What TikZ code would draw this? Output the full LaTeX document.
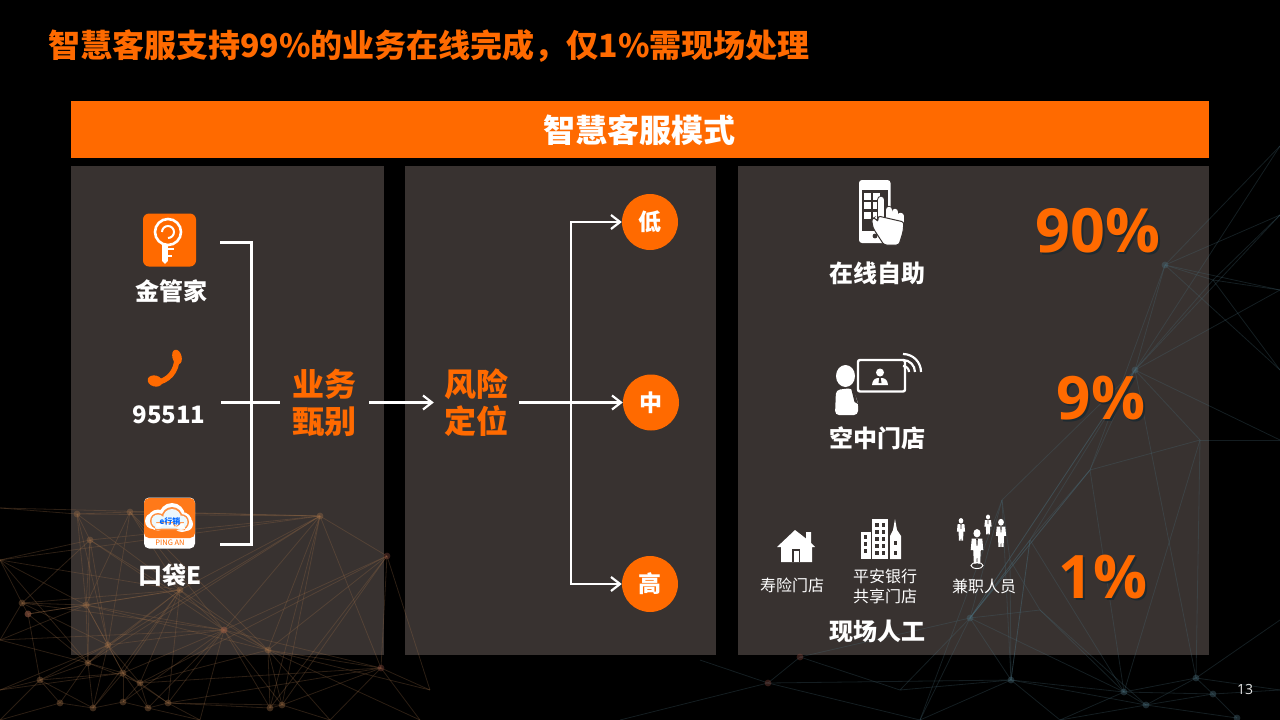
\documentclass[tikz,border=0pt]{standalone}
\usepackage{fontspec}
\setmainfont{Noto Sans CJK SC}
\newfontfamily\numfont{Open Sans}
\usetikzlibrary{arrows.meta,calc}
\definecolor{brand}{HTML}{FF6A00}
\definecolor{panelc}{HTML}{383230}
\definecolor{netor}{HTML}{A07048}
\definecolor{netbl}{HTML}{4A6E7C}
\definecolor{netrd}{HTML}{8A4A40}
\definecolor{shadowc}{HTML}{1E2A30}
\newcommand{\fs}[1]{\fontsize{#1}{#1}\selectfont}
\newcommand{\personicon}[3]{%
  \begin{scope}[shift={(#1,#2)},scale=#3]
    \fill[white] (0,-15) circle[x radius=3.4,y radius=4];
    \fill[white] (-5,-10) -- (5,-10) -- (6,1) -- (3.6,1) -- (3,14) -- (0.5,14) -- (0,4) -- (-0.5,14) -- (-3,14) -- (-3.6,1) -- (-6,1) -- cycle;
    \fill[panelc] (-0.8,-10) -- (0.8,-10) -- (0.4,-3) -- (-0.4,-3) -- cycle;
  \end{scope}}
\tikzset{
  panel/.style={fill=panelc,draw=none},
  labelw/.style={text=white,font=\fs{24}\bfseries,inner sep=0pt},
  labelo/.style={text=brand,font=\fontsize{32}{37}\selectfont\bfseries,inner sep=0pt,align=center},
  smalll/.style={text=white,font=\fontsize{16}{20}\selectfont,inner sep=0pt,align=center},
  pct/.style={text=brand,font=\numfont\fs{60}\bfseries,inner sep=0pt},
  pctsh/.style={text=shadowc,font=\numfont\fs{60}\bfseries,inner sep=0pt},
  conn/.style={draw=white,line width=3pt},
  tipconn/.style={draw=white,line width=2.6pt,-{Straight Barb[length=9pt,width=14pt,line width=2.2pt]}},
  riskc/.style={circle,fill=brand,minimum size=56pt,inner sep=0pt,text=white,font=\fs{23}\bfseries},
  netdot/.style={radius=3.4pt,fill opacity=.38},
  netline/.style={line width=.8pt,draw opacity=.27}
}
\begin{document}
\begin{tikzpicture}[x=1pt,y=-1pt]
\fill[black] (0,0) rectangle (1280,720);
\useasboundingbox (0,0) rectangle (1280,720);
% --- panels
\fill[panel] (71,166) rectangle (384,655);
\fill[panel] (405,166) rectangle (716,655);
\fill[panel] (738,166) rectangle (1209,655);
% --- background network, bottom left (orange)
\foreach \n/\x/\y in {a/0/508,b/77/514,c/130/512,d/90/540,e/320/516,f/387/556,g/22/603,h/28/614,i/86/605,j/180/590,k/224/630,l/268/650,m/108/645,n/88/663,o/40/680,p/123/673,q/140/683,r/60/703,s/93/708,t/123/702,u/148/708,v/168/703,w/270/708,x/282/705,y/381/668,z/0/560,A/0/640,B/0/690,C/420/720,D/330/720,E/430/690,F/0/720,G/200/720}{\coordinate (n\n) at (\x,\y);}
\foreach \p/\q in {a/b,b/c,b/d,b/j,c/e,c/j,c/k,c/l,d/i,d/m,d/n,d/g,d/z,e/j,e/k,e/l,e/f,e/y,e/n,e/m,f/k,f/y,f/l,g/i,g/m,g/h,h/i,h/o,h/n,i/j,i/p,i/m,i/n,j/k,j/m,j/p,j/l,j/n,k/l,k/m,k/p,k/w,k/x,l/y,l/x,l/w,l/q,m/n,m/o,m/p,m/q,m/s,n/o,n/p,n/q,n/r,n/s,o/r,o/s,o/p,p/q,p/s,p/t,p/u,p/v,q/t,q/u,q/v,q/j,r/s,s/t,t/u,u/v,v/j,v/w,w/x,x/y,z/g,z/n,z/i,j/z,s/j,t/k,u/k,v/k,v/x,a/e,b/e,d/e,z/e,d/k,d/l,i/l,g/j,g/k,i/k,h/j,c/m,c/i,b/m,b/i,e/x,e/w,f/w,f/x,f/q,y/k,y/q,y/v,A/g,A/i,A/k,A/n,B/o,B/p,B/m,F/r,F/o,G/v,G/k,G/u,D/l,D/y,D/x,C/y,C/l,E/y,E/f,E/l}{\draw[netor,netline] (n\p) -- (n\q);}
\foreach \n in {b,c,d,e,g,h,i,j,k,l,m,n,o,p,q,r,s,t,u,v,w,x}{\fill[netor,netdot] (n\n) circle;}
\foreach \n in {f,y,h,k}{\fill[netrd,netdot] (n\n) circle;}
% --- background network, bottom centre and right (blue)
\foreach \n/\x/\y in {a/800/657,b/768/683,c/970/618,d/1011/680,e/1124/692,f/1146/705,g/1196/678,h/1213/694,i/1237/718,j/1165/265,k/1135/370,l/1280/146,m/1280/215,n/1280/290,o/1280/370,p/1213/280,q/1280/620,r/1280/690,s/1060/720,t/920/720,u/1090/470,v/1200/440,w/1280/440,x/1030/540,y/620/720,z/700/660,A/1002/500,B/1010/560,C/1040/610,D/900/690}{\coordinate (b\n) at (\x,\y);}
\foreach \p/\q in {a/b,a/c,b/y,b/z,b/t,b/d,c/d,c/x,c/u,c/t,c/e,c/k,d/e,d/s,d/t,d/x,d/f,e/f,e/g,e/h,e/x,e/s,f/g,f/h,f/i,f/s,g/h,g/q,g/r,h/i,h/r,j/l,j/m,j/n,j/o,j/k,j/p,j/u,k/l,k/m,k/n,k/p,k/u,k/v,k/x,k/w,k/c,p/n,p/m,p/o,u/c,u/x,u/e,v/w,v/e,v/u,x/d,x/c,g/v,g/k,A/d,A/c,A/t,A/B,B/d,B/C,C/e,C/f,C/c,a/D,D/d,D/c,A/k}{\draw[netbl,netline] (b\p) -- (b\q);}
\foreach \n in {c,d,e,f,g,h,i,j,k}{\fill[netbl,netdot] (b\n) circle;}
\fill[netrd,netdot] (ba) circle;
\fill[netrd,netdot] (bb) circle;
\fill[brand] (71,101) rectangle (1209,158);
% --- title and header
\node[anchor=west,text=brand,font=\fs{32}\bfseries,inner sep=0pt] (title) at (48,46) {智慧客服支持99\%的业务在线完成，仅1\%需现场处理};
\node[text=white,font=\fs{32}\bfseries,inner sep=0pt] (header) at (639.5,130) {智慧客服模式};
% --- left panel icons
\node[fill=brand,rounded corners=6pt,minimum size=53pt,inner sep=0pt] (keytile) at (169.5,240) {};
\draw[white,line width=2.6pt] (168,232) circle[radius=13];
\draw[white,line width=2pt] (162,232) arc[start angle=180,end angle=450,radius=6];
\draw[white,line width=5.5pt] (165,244) -- (165,259);
\draw[white,line width=2.6pt] (165,249) -- (174,249) (165,256) -- (172,256);
\fill[white] (162.2,259) -- (167.8,259) -- (167.8,261) -- (165,264) -- (162.2,261) -- cycle;
\node[labelw] (jgj) at (171,291) {金管家};
\draw[brand,line width=5.4pt] (177,357) .. controls (177,372) and (168,381) .. (155,383);
\fill[brand,rotate around={-75:(177,357)}] (177,357) circle[x radius=7.5,y radius=4.6];
\fill[brand,rotate around={-15:(155,381)}] (155,381) circle[x radius=7.5,y radius=5.5];
\node[labelw] (hotline) at (169,415) {95511};
\node[fill=white,rounded corners=5pt,minimum size=51pt,inner sep=0pt] (pockettile) at (169.5,523) {};
\fill[brand!90!white,rounded corners=5pt] (144,538) -- (144,498) -- (195,498) -- (195,538) -- cycle;
\fill[white] (158,520) circle[radius=10.5] (172,516) circle[radius=13] (182,522) circle[radius=10] (153,521) circle[radius=8] (186,524) circle[radius=7];
\fill[brand!75!white] (158,521) circle[radius=8] (172,517.5) circle[radius=10.5] (181,522) circle[radius=8] (155,523) rectangle (185,530);
\fill[white!92!cyan] (158,521) circle[radius=6.5] (172,518) circle[radius=9] (181,522) circle[radius=6.5] (156,522) rectangle (184,528.5);
\node[text=brand,font=\fs{7.5},inner sep=0pt] (pingan) at (170,543) {PING AN};
\node[text=blue!60!cyan,font=\fs{8}\bfseries,inner sep=0pt] (elife) at (170,521) {e行销};
\node[labelw] (kde) at (170,575) {口袋E};
% --- left connectors
\node[labelo] (yewu) at (324,403) {业务\\甄别};
\node[labelo] (fengxian) at (476,403) {风险\\定位};
\coordinate (bt) at (220,242);
\coordinate (bb) at (220,544);
\coordinate (bm) at (221,402.5);
\coordinate (bj) at (251,402.5);
\draw[conn] (bt) -| (bj) |- (bb);
\draw[conn,shorten >=12pt] (bm) -- (yewu.west |- bm);
\draw[tipconn,shorten <=13pt,shorten >=10pt] (yewu.east |- bm) -- (fengxian.west |- bm);
% --- risk levels
\node[riskc] (low) at (650,222) {低};
\node[riskc] (mid) at (651,402.5) {中};
\node[riskc] (high) at (650,584) {高};
\coordinate (hub) at (571,402.5);
\draw[tipconn,shorten <=11pt] (fengxian.east |- hub) -- (mid.west);
\draw[tipconn] (hub) |- (low.west);
\draw[tipconn] (hub) |- (high.west);
% --- self service phone icon
\fill[white,rounded corners=3pt] (859,180) rectangle (890.5,243);
\fill[panelc] (862,190) rectangle (888,231);
\foreach \x in {863.5,873}\foreach \y in {193,202,212}{\fill[white] (\x,\y) rectangle ++(7,6.5);}
\draw[panelc,line width=8.5pt,line cap=round] (881,200) -- (881,224) (889,210) -- (889,226) (895,212) -- (895,226) (900.5,216) -- (900.5,228);
\draw[white,line width=6.5pt,line cap=round] (881,200) -- (881,224) (889,210) -- (889,226) (895,212) -- (895,226) (900.5,216) -- (900.5,228);
\fill[white,draw=panelc,line width=1pt,rounded corners=2.5pt] (878,216) -- (904,222) -- (903,232) -- (899,245) -- (884,245) -- (873,228) -- (871.5,219) -- (874.5,217.5) -- (878,222) -- cycle;
\fill[panelc] (875,236) circle[radius=2.4];
\node[labelw] (online) at (877,273) {在线自助};
\node[pctsh,font=\numfont\fs{61}\bfseries] (s90) at (1100,233) {90\%};
\node[pct,font=\numfont\fs{61}\bfseries] (p90) at (1098,231) {90\%};
% --- sky store icon
\fill[white] (845.5,376) circle[x radius=9.5,y radius=11];
\fill[white,rounded corners=4pt] (836,390) -- (852,388) -- (858,402) -- (858,415) -- (835,415) -- cycle;
\fill[panelc] (851,388) -- (853.5,389) -- (858,404) -- (854.5,402) -- cycle;
\draw[white,line width=2.4pt,rounded corners=2pt] (858,360) rectangle (905,391.5);
\fill[white] (880,372.5) circle[radius=4];
\fill[white] (872,385) .. controls (873,378) and (876,378) .. (880,378) .. controls (884,378) and (887,378) .. (888,385) -- cycle;
\fill[panelc] (879.3,378) -- (880.7,378) -- (881.5,383) -- (878.5,383) -- cycle;
\foreach \r in {6,12,18}{\draw[white,line width=2.2pt] ($(903,372)+(0,-\r)$) arc[start angle=-90,end angle=0,radius=\r];}
\node[labelw] (sky) at (877,438) {空中门店};
\node[pctsh] (s9) at (1103,400) {9\%};
\node[pct] (p9) at (1101,398) {9\%};
% --- house
\fill[white] (795,530) -- (806,538.5) -- (806,532) -- (811,532) -- (811,543) -- (815,547) -- (812,547) -- (812,562) -- (781,562) -- (781,547) -- (777,547) -- cycle;
\fill[panelc] (792,549) rectangle (800,562);
\fill[white] (793.5,550.5) rectangle (798.5,562);
\node[smalll] (life) at (792,585) {寿险门店};
% --- city
\fill[white] (872,518.5) rectangle (888,559);
\fill[white] (861,532) rectangle (870.5,559);
\fill[white] (890,559) -- (890,536) -- (893,530) -- (895,519) -- (897,530) -- (901,536) -- (901,559) -- cycle;
\foreach \x in {875,881.5}\foreach \y in {523,530,537,544,551}{\fill[panelc] (\x,\y) rectangle ++(3.5,3.5);}
\foreach \y in {535,542,549}{\fill[panelc] (863.5,\y) rectangle ++(3.5,3.5);}
\foreach \y in {541,551}{\fill[panelc] (893.5,\y) rectangle ++(3.5,3.5);}
\node[smalll] (bank) at (885,586) {平安银行\\共享门店};
% --- people
\personicon{977}{549}{1.05}
\draw[white,line width=.9pt] (977,565.5) circle[x radius=6,y radius=3];
\personicon{961}{531}{.68}
\personicon{988}{526}{.6}
\personicon{1001}{535}{.85}
\node[smalll] (parttime) at (984,586) {兼职人员};
\node[labelw] (onsite) at (877,631) {现场人工};
\node[pctsh] (s1) at (1105,579) {1\%};
\node[pct] (p1) at (1103,577) {1\%};
\node[text=white!90!black,font=\numfont\fs{14},inner sep=0pt] (pageno) at (1245,689) {13};
\end{tikzpicture}
\end{document}
